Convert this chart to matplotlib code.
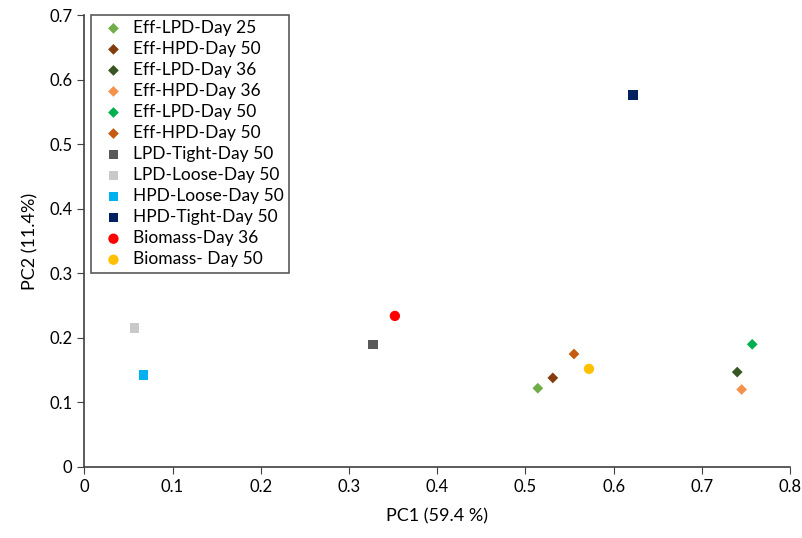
import matplotlib
matplotlib.use("Agg")
import matplotlib.pyplot as plt

plt.rcParams["font.family"] = ["Lato", "DejaVu Sans"]

# data
labels = ["Eff-LPD-Day 25", "Eff-HPD-Day 50", "Eff-LPD-Day 36", "Eff-HPD-Day 36",
          "Eff-LPD-Day 50", "Eff-HPD-Day 50", "LPD-Tight-Day 50", "LPD-Loose-Day 50",
          "HPD-Loose-Day 50", "HPD-Tight-Day 50", "Biomass-Day 36", "Biomass- Day 50"]
pc1 = [0.514, 0.531, 0.740, 0.745, 0.757, 0.555, 0.327, 0.057, 0.067, 0.622, 0.352, 0.572]
pc2 = [0.122, 0.138, 0.147, 0.120, 0.190, 0.175, 0.190, 0.215, 0.142, 0.576, 0.234, 0.152]
colors = ["#70AD47", "#843C0C", "#375623", "#F4914A", "#00B050", "#C55A11",
          "#595959", "#C9C9C9", "#00B0F0", "#002060", "#FF0000", "#FFC000"]
markers = ["D"] * 6 + ["s"] * 4 + ["o"] * 2
sizes = [30] * 6 + [48] * 4 + [55] * 2

fig = plt.figure(figsize=(8.03, 5.38), dpi=100)
ax = fig.add_axes([0.105, 0.132, 0.879, 0.840])

for x, y, c, m, s, lab in zip(pc1, pc2, colors, markers, sizes, labels):
    ax.scatter(x, y, c=c, marker=m, s=s, label=lab, edgecolors="none")

ax.set_xlim(0, 0.8)
ax.set_ylim(0, 0.7)
ax.set_xticks([0, 0.1, 0.2, 0.3, 0.4, 0.5, 0.6, 0.7, 0.8])
ax.set_xticklabels(["0", "0.1", "0.2", "0.3", "0.4", "0.5", "0.6", "0.7", "0.8"])
ax.set_yticks([0, 0.1, 0.2, 0.3, 0.4, 0.5, 0.6, 0.7])
ax.set_yticklabels(["0", "0.1", "0.2", "0.3", "0.4", "0.5", "0.6", "0.7"])
ax.tick_params(labelsize=12, direction="out", length=5, color="#404040")
for sp in ["top", "right"]:
    ax.spines[sp].set_visible(False)
for sp in ["left", "bottom"]:
    ax.spines[sp].set_color("#404040")
    ax.spines[sp].set_linewidth(1.2)

ax.set_xlabel("PC1 (59.4 %)", fontsize=13, labelpad=10)
ax.set_ylabel("PC2 (11.4%)", fontsize=13, labelpad=8)

leg = ax.legend(loc="upper left", bbox_to_anchor=(-0.003, 1.02), fontsize=12.5,
                frameon=True, fancybox=False, edgecolor="#303030",
                handletextpad=0.1, labelspacing=0.29, borderpad=0.3,
                handlelength=2.0, scatterpoints=1)
leg.get_frame().set_linewidth(1.2)

fig.savefig("out.png", dpi=100)
